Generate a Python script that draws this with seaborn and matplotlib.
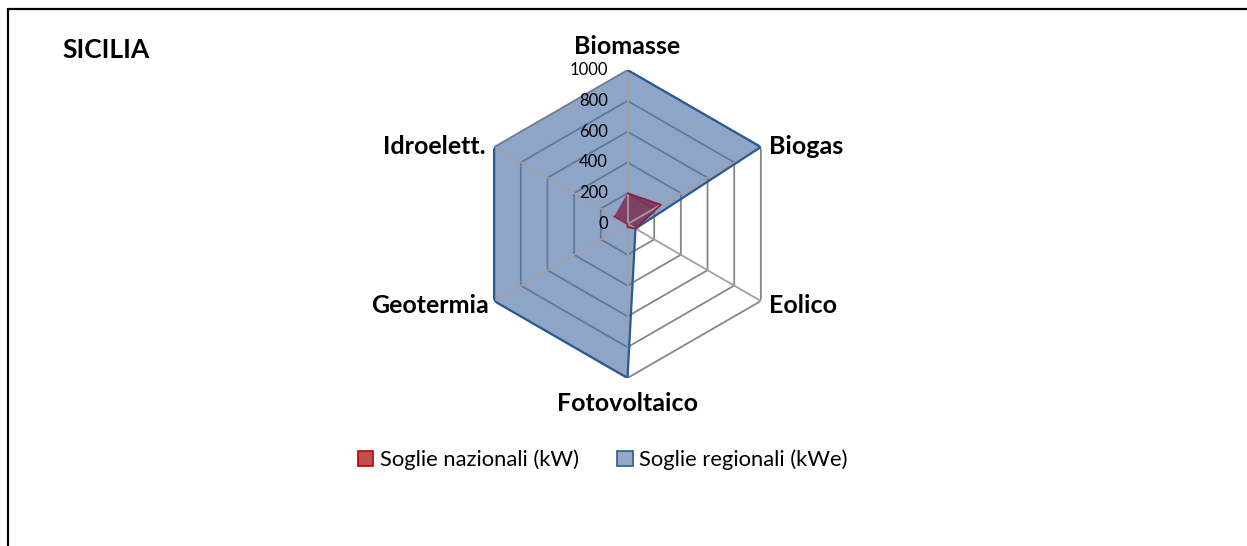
import numpy as np
import pandas as pd
import matplotlib
matplotlib.use("Agg")
import matplotlib.pyplot as plt
from matplotlib.patches import Patch
from matplotlib.lines import Line2D
import seaborn as sns

# ---- data ----
categories = ["Biomasse", "Biogas", "Eolico", "Fotovoltaico", "Geotermia", "Idroelett."]
soglie_nazionali = [200, 250, 60, 20, 0, 100]
soglie_regionali = [1000, 1000, 60, 1000, 1000, 1000]
series_names = ["Soglie nazionali (kW)", "Soglie regionali (kWe)"]
tick_values = [0, 200, 400, 600, 800, 1000]
title = "SICILIA"

sns.set_theme(style="white")
plt.rcParams["font.family"] = ["Lato", "DejaVu Sans"]
plt.rcParams["text.color"] = "black"

W, H = 1247, 546
fig = plt.figure(figsize=(W / 100, H / 100), dpi=100)
fig.patch.set_facecolor("white")

cx, cy, R = 627.5, 224, 154
ax = fig.add_axes([(cx - R) / W, (H - cy - R) / H, 2 * R / W, 2 * R / H], projection="polar")
ax.set_theta_zero_location("N")
ax.set_theta_direction(-1)
ax.set_ylim(0, max(tick_values))
ax.grid(False)
ax.spines["polar"].set_visible(False)
ax.set_xticks([])
ax.set_yticks([])
ax.set_facecolor("none")

n = len(categories)
theta = np.arange(n) * 2 * np.pi / n
theta_c = np.append(theta, theta[0])

# hexagonal rings
for v in tick_values[1:]:
    ax.plot(theta_c, [v] * (n + 1), color="#878787", lw=1.3, zorder=1)

blue_fill = "#4A6FA5"
blue_edge = "#2A5A96"
red_fill = "#7A1A3E"
red_edge = "#8E1F40"

reg = np.append(soglie_regionali, soglie_regionali[0])
naz = np.append(soglie_nazionali, soglie_nazionali[0])

ax.fill(theta_c, reg, color=blue_fill, alpha=0.62, lw=0, zorder=2)
ax.fill(theta_c, naz, color=red_fill, alpha=0.72, lw=0, zorder=3)

# spokes on top
for t in theta:
    ax.plot([t, t], [0, max(tick_values)], color="#A0A0A0", lw=1.3, zorder=4)

# outlines (open: the closing segment is not stroked, as in the original)
df_reg = pd.DataFrame({"theta": theta, "value": soglie_regionali})
df_naz = pd.DataFrame({"theta": theta, "value": soglie_nazionali})
sns.lineplot(data=df_reg, x="theta", y="value", ax=ax, sort=False, estimator=None,
             color=blue_edge, lw=1.6, zorder=5)
sns.lineplot(data=df_naz, x="theta", y="value", ax=ax, sort=False, estimator=None,
             color=red_edge, lw=1.3, zorder=6)
ax.set_xlabel("")
ax.set_ylabel("")
ax.set_ylim(0, max(tick_values))

# tick labels
for v in tick_values:
    ax.annotate(str(v), xy=(0, v), xytext=(-14, 0), textcoords="offset points",
                ha="right", va="center", fontsize=12, color="black", zorder=7)

# category labels
placements = [
    ((0, 9), "center", "bottom"),
    ((6, 0), "left", "center"),
    ((6, -3), "left", "center"),
    ((0, -10), "center", "top"),
    ((-4, -3), "right", "center"),
    ((-6, 0), "right", "center"),
]
for t, lab, (off, ha, va) in zip(theta, categories, placements):
    ax.annotate(lab, xy=(t, max(tick_values)), xytext=off, textcoords="offset points",
                ha=ha, va=va, fontsize=18, fontweight="bold", color="black",
                annotation_clip=False)

# title
fig.text(62 / W, 1 - 50 / H, title, fontsize=19, fontweight="bold", ha="left", va="center",
         color="black")

# legend
handles = [
    Patch(facecolor="#C0504D", edgecolor="#C00000", lw=1.2, label=series_names[0]),
    Patch(facecolor="#95A9C6", edgecolor="#2E5A8E", lw=1.2, label=series_names[1]),
]
leg = fig.legend(handles=handles, loc="center", bbox_to_anchor=(603 / W, 1 - 460 / H), ncol=2,
                 frameon=False, fontsize=15.8, handlelength=0.7, handleheight=0.7,
                 handletextpad=0.3, columnspacing=1.75)
for txt in leg.get_texts():
    txt.set_color("black")

# border (top and left)
fig.add_artist(Line2D([8 / W, 1.0], [1 - 8.5 / H, 1 - 8.5 / H], transform=fig.transFigure,
                      color="black", lw=1.6))
fig.add_artist(Line2D([8 / W, 8 / W], [1 - 8.5 / H, 0], transform=fig.transFigure,
                      color="black", lw=1.6))

fig.savefig("out.png", dpi=100, facecolor="white")
